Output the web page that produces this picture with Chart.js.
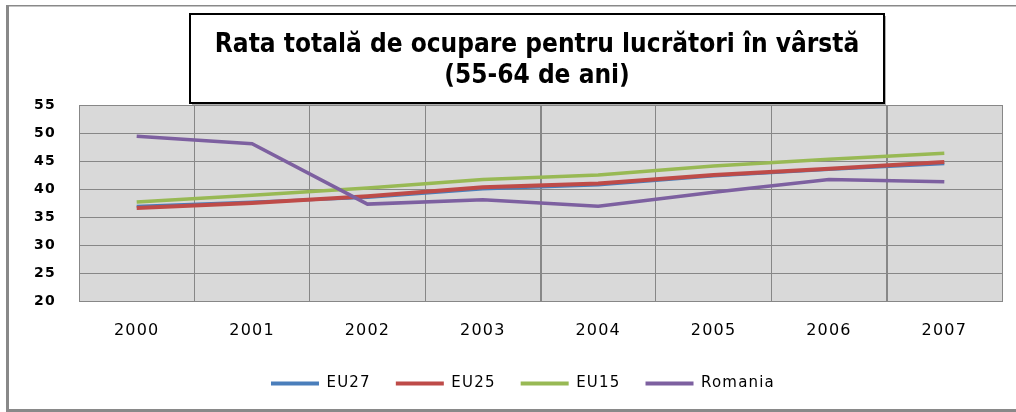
<!DOCTYPE html>
<html>
<head>
<meta charset="utf-8">
<script src="https://cdn.jsdelivr.net/npm/chart.js@4.4.0/dist/chart.umd.min.js"></script>
<style>
  html, body { margin: 0; padding: 0; background: #fff; }
  #wrap { width: 1016px; height: 412px; }
</style>
</head>
<body>
<div id="wrap"><canvas id="chart" width="1016" height="412"></canvas></div>
<script>
const years = ['2000', '2001', '2002', '2003', '2004', '2005', '2006', '2007'];
const eu27 = [36.9, 37.7, 38.5, 40.0, 40.7, 42.3, 43.5, 44.5];
const eu25 = [36.6, 37.5, 38.7, 40.3, 41.0, 42.5, 43.6, 44.8];
const eu15 = [37.7, 38.9, 40.2, 41.7, 42.5, 44.1, 45.3, 46.4];
const romania = [49.4, 48.1, 37.3, 38.1, 36.9, 39.4, 41.7, 41.3];
const titleLines = ['Rata totală de ocupare pentru lucrători în vârstă', '(55-64 de ani)'];

const FONT = "'DejaVu Sans', Verdana, sans-serif";
const GRID = '#878787';

// spatiere intre litere ca in original
const spacingPlugin = {
    id: 'spacing',
    beforeUpdate(chart) { chart.ctx.letterSpacing = '1.2px'; },
    beforeDraw(chart) { chart.ctx.letterSpacing = '1.2px'; },
    afterLayout(chart) {
        // legenda centrata ca in Excel
        chart.legend.left += 22;
        chart.legend.right += 22;
    }
};

// fundal, rama si zona graficului
const backgroundPlugin = {
    id: 'background',
    beforeDraw(chart) {
        const ctx = chart.ctx;
        const a = chart.chartArea;
        ctx.save();
        ctx.fillStyle = '#fff';
        ctx.fillRect(0, 0, chart.width, chart.height);
        ctx.fillStyle = '#898989';
        ctx.fillRect(6, 5, chart.width - 6, 1.5);
        ctx.fillRect(6, 5, 3, chart.height - 5);
        ctx.fillRect(6, chart.height - 3, chart.width - 6, 3);
        ctx.fillStyle = '#d9d9d9';
        ctx.fillRect(a.left, a.top, a.right - a.left, a.bottom - a.top);
        ctx.restore();
    }
};

// caseta titlului
const titleBoxPlugin = {
    id: 'titleBox',
    afterDraw(chart) {
        const ctx = chart.ctx;
        const x = 190, y = 14, w = 694, h = 89;
        ctx.save();
        ctx.letterSpacing = '0px';
        ctx.fillStyle = '#b0b0b0';
        ctx.fillRect(x + 2, y + 2, w, h);
        ctx.fillStyle = '#fff';
        ctx.fillRect(x, y, w, h);
        ctx.strokeStyle = '#000';
        ctx.lineWidth = 2;
        ctx.strokeRect(x, y, w, h);
        ctx.font = "bold 24px 'DejaVu Sans Condensed', 'DejaVu Sans', sans-serif";
        const size = 24 * 644 / ctx.measureText(titleLines[0]).width;
        ctx.font = "bold " + size.toFixed(1) + "px 'DejaVu Sans Condensed', 'DejaVu Sans', sans-serif";
        ctx.fillStyle = '#000';
        ctx.textAlign = 'center';
        ctx.textBaseline = 'middle';
        ctx.fillText(titleLines[0], 537, 45);
        ctx.fillText(titleLines[1], 537, 76);
        ctx.restore();
    }
};

function lineSet(label, data, color, width, order) {
    return {
        label: label,
        data: data,
        borderColor: color,
        backgroundColor: color,
        borderWidth: width,
        pointRadius: 0,
        tension: 0,
        order: order
    };
}

const ctx = document.getElementById('chart').getContext('2d');
new Chart(ctx, {
    type: 'line',
    data: {
        labels: years,
        datasets: [
            lineSet('EU27', eu27, '#4a7ebb', 3, 3),
            lineSet('EU25', eu25, '#be4b48', 4, 2),
            lineSet('EU15', eu15, '#98b954', 3.5, 1),
            lineSet('Romania', romania, '#7d60a0', 3.5, 0)
        ]
    },
    options: {
        responsive: false,
        animation: false,
        devicePixelRatio: 1,
        layout: { padding: { top: 105, left: 0, right: 14, bottom: 11 } },
        plugins: {
            title: { display: false },
            tooltip: { enabled: false },
            legend: {
                position: 'bottom',
                labels: {
                    boxWidth: 48,
                    boxHeight: 4,
                    padding: 25,
                    color: '#000',
                    font: { family: FONT, size: 15 },
                    sort: (a, b) => a.datasetIndex - b.datasetIndex,
                    generateLabels(chart) {
                        const items = Chart.defaults.plugins.legend.labels.generateLabels(chart);
                        items.forEach(it => { it.lineWidth = 0; });
                        return items;
                    }
                }
            }
        },
        scales: {
            x: {
                offset: true,
                grid: {
                    offset: true,
                    drawTicks: false,
                    color: GRID,
                    lineWidth: c => (c.index === 4 || c.index === 7) ? 2 : 1
                },
                border: { color: GRID },
                ticks: { color: '#000', padding: 20, font: { family: FONT, size: 16 } },
                afterFit(scale) { scale.height = 50; }
            },
            y: {
                min: 20,
                max: 55,
                ticks: { stepSize: 5, color: '#000', padding: 23, font: { family: FONT, size: 14, weight: 'bold' } },
                grid: { drawTicks: false, color: GRID },
                border: { color: GRID },
                afterFit(scale) { scale.width = 79; }
            }
        }
    },
    plugins: [spacingPlugin, backgroundPlugin, titleBoxPlugin]
});
</script>
</body>
</html>
